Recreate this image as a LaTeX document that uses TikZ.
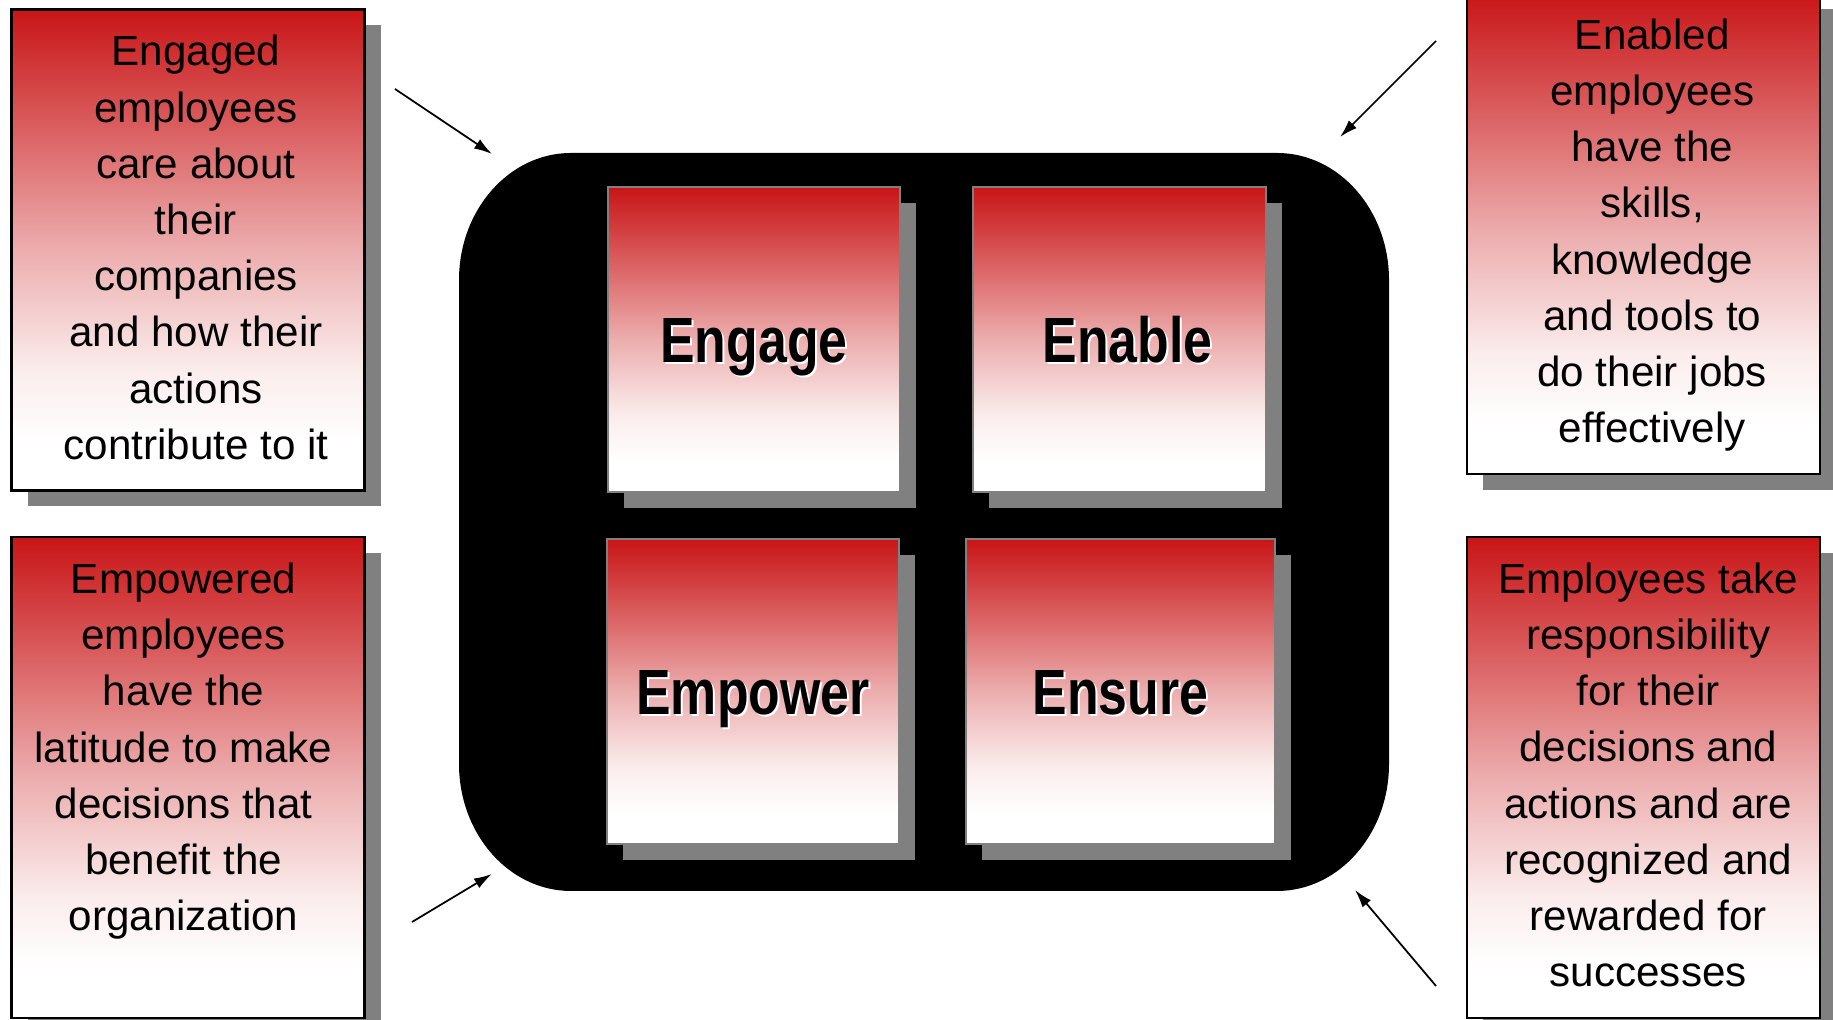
\documentclass[tikz,border=0pt]{standalone}
\usepackage{fontspec}
\setmainfont{Liberation Sans}
\newfontfamily\headfont{Liberation Sans}[FakeStretch=0.81]
\usetikzlibrary{arrows.meta,positioning,shadows}

\definecolor{tilered}{RGB}{201,21,23}
\definecolor{shadowgray}{RGB}{128,128,128}
\colorlet{fadeA}{tilered!8!white}
\colorlet{fadeB}{tilered!35!white}
\colorlet{fadeC}{tilered!68!white}

% 由上而下: 紅 -> 白 (框的範圍對應 25bp..75bp)
\pgfdeclareverticalshading{redfade}{100bp}{color(0bp)=(white); color(30bp)=(white);
    color(37.5bp)=(fadeA); color(50bp)=(fadeB); color(62.5bp)=(fadeC);
    color(75bp)=(tilered); color(100bp)=(tilered)}

% 白色錯位的標題字
\newcommand{\embossed}[1]{\makebox[0pt][l]{\hspace{0.02cm}\raisebox{-0.02cm}{\color{white}#1}}#1}

\begin{document}
\begin{tikzpicture}[
    >=Latex,
    note/.style={draw, line width=0.6pt, shading=redfade,
        minimum width=3.53cm, minimum height=4.81cm, inner sep=0pt,
        general shadow={fill=shadowgray, shadow xshift=0.16cm, shadow yshift=-0.16cm}},
    notetext/.style={anchor=base, align=center, font=\fontsize{12}{16}\selectfont},
    tile/.style={draw=black!50, line width=0.4pt, shading=redfade,
        minimum height=3.05cm, inner sep=0pt, text height=0.46cm, text depth=0cm,
        font=\headfont\bfseries\fontsize{18.2}{22}\selectfont,
        general shadow={fill=shadowgray, shadow xshift=0.16cm, shadow yshift=-0.16cm}},
    pointer/.style={->, >={Latex[length=0.18cm, width=0.11cm]}, line width=0.5pt}
]
    \useasboundingbox (0,0) rectangle (18.33, 10.2);

    % --- 1. 中間的黑色圓角底框 ---
    \fill[black] (4.59, 7.40) arc[start angle=180, end angle=90, x radius=1.12, y radius=1.27]
        -- (12.77, 8.67) arc[start angle=90, end angle=0, x radius=1.12, y radius=1.27]
        -- (13.89, 2.56) arc[start angle=0, end angle=-90, x radius=1.12, y radius=1.27]
        -- (5.71, 1.29) arc[start angle=270, end angle=180, x radius=1.12, y radius=1.27]
        -- cycle;

    % --- 2. 四個方塊 ---
    \node[tile, minimum width=2.92cm] (tile_engage)  at (7.54, 6.805)  {\embossed{Engage}};
    \node[tile, minimum width=2.93cm] (tile_enable)  at (11.195, 6.805) {\hspace{0.16cm}\embossed{Enable}};
    \node[tile, minimum width=2.92cm] (tile_empower) at (7.53, 3.285)  {\embossed{Empower}};
    \node[tile, minimum width=3.09cm] (tile_ensure)  at (11.205, 3.285) {\embossed{Ensure}};

    % --- 3. 四角的說明框 ---
    \node[note] (note_engage)  at (1.88, 7.70)     {};
    \node[note] (note_enable)  at (16.4375, 7.865) {};
    \node[note] (note_empower) at (1.88, 2.425)    {};
    \node[note] (note_ensure)  at (16.4375, 2.425) {};

    % base 對齊到最後一行
    \node[notetext] (txt_engage) at ([xshift=0.08cm, yshift=-4.51cm]note_engage.north)
        {Engaged\\employees\\care about\\their\\companies\\and how their\\actions\\contribute to it};
    \node[notetext] (txt_enable) at ([xshift=0.085cm, yshift=-4.51cm]note_enable.north)
        {Enabled\\employees\\have the\\skills,\\knowledge\\and tools to\\do their jobs\\effectively};
    \node[notetext] (txt_empower) at ([xshift=-0.045cm, yshift=-3.95cm]note_empower.north)
        {Empowered\\employees\\have the\\latitude to make\\decisions that\\benefit the\\organization};
    \node[notetext] (txt_ensure) at ([xshift=0.045cm, yshift=-4.51cm]note_ensure.north)
        {Employees take\\responsibility\\for their\\decisions and\\actions and are\\recognized and\\rewarded for\\successes};

    % --- 4. 指向底框四角的箭頭 ---
    \coordinate (engage_from)  at (3.95, 9.31);
    \coordinate (engage_to)    at (4.92, 8.66);
    \coordinate (enable_from)  at (14.36, 9.79);
    \coordinate (enable_to)    at (13.40, 8.83);
    \coordinate (empower_from) at (4.12, 0.98);
    \coordinate (empower_to)   at (4.92, 1.46);
    \coordinate (ensure_from)  at (14.36, 0.34);
    \coordinate (ensure_to)    at (13.55, 1.30);

    \draw[pointer] (engage_from) -- (engage_to);
    \draw[pointer] (enable_from) -- (enable_to);
    \draw[pointer] (empower_from) -- (empower_to);
    \draw[pointer] (ensure_from) -- (ensure_to);

\end{tikzpicture}
\end{document}
